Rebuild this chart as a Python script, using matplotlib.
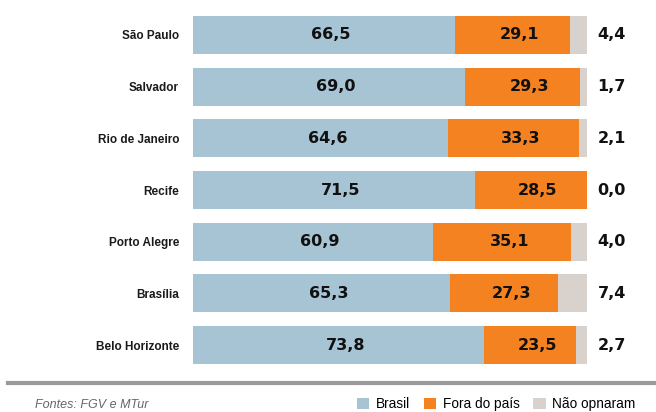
import matplotlib
matplotlib.use('Agg')
import matplotlib.pyplot as plt
from matplotlib.patches import Patch
from matplotlib.lines import Line2D

cities = ['São Paulo', 'Salvador', 'Rio de Janeiro', 'Recife', 'Porto Alegre', 'Brasília', 'Belo Horizonte']
brasil = [66.5, 69.0, 64.6, 71.5, 60.9, 65.3, 73.8]
fora = [29.1, 29.3, 33.3, 28.5, 35.1, 27.3, 23.5]
nao = [4.4, 1.7, 2.1, 0.0, 4.0, 7.4, 2.7]
labels = ['Brasil', 'Fora do país', 'Não opnaram']
colors = ['#a7c4d4', '#f58220', '#d9d1cb']

plt.rcParams['font.family'] = ['Liberation Sans', 'DejaVu Sans']

W, H = 656, 412
fig = plt.figure(figsize=(W / 100, H / 100), dpi=100)
ax = fig.add_axes([193 / W, 1 - 364 / H, (587 - 193) / W, (364 - 16) / H])

def fmt(v):
    return f'{v:.1f}'.replace('.', ',')

num_font = dict(family='DejaVu Sans', fontsize=11.5, fontweight='bold', color='#111111')

y = list(range(len(cities)))
h = 0.735
ax.barh(y, brasil, height=h, color=colors[0])
ax.barh(y, fora, left=brasil, height=h, color=colors[1])
left2 = [a + b for a, b in zip(brasil, fora)]
ax.barh(y, nao, left=left2, height=h, color=colors[2])

for i in y:
    ax.text(brasil[i] / 2 + 1.8, i, fmt(brasil[i]), ha='center', va='center', **num_font)
    ax.text(brasil[i] + fora[i] / 2 + 1.8, i, fmt(fora[i]), ha='center', va='center', **num_font)
    ax.text(102.7, i, fmt(nao[i]), ha='left', va='center', clip_on=False, **num_font)

ax.set_xlim(0, 100)
ax.set_ylim(len(cities) - 1 + h / 2, -h / 2)
ax.set_yticks(y)
ax.set_yticklabels(cities, fontsize=8.5, fontweight='bold', color='#1a1a1a')
ax.tick_params(axis='y', length=0, pad=10)
ax.set_xticks([])
for s in ax.spines.values():
    s.set_visible(False)

# gray rule
fig.add_artist(Line2D([8 / W, 1], [1 - 383 / H] * 2, color='#9a9a9a', lw=3,
                      transform=fig.transFigure))

fig.text(35 / W, 1 - 405 / H, 'Fontes: FGV e MTur', fontsize=9, style='italic',
         color='#666666', ha='left', va='center')

handles = [Patch(facecolor=c, edgecolor='none') for c in colors]
fig.legend(handles, labels, ncol=3, loc='center left',
           bbox_to_anchor=(357 / W, 1 - 404 / H), frameon=False, fontsize=9.8,
           handlelength=0.9, handleheight=0.9, handletextpad=0.5,
           columnspacing=1.0, borderaxespad=0, borderpad=0)

fig.savefig('out.png', dpi=100)
